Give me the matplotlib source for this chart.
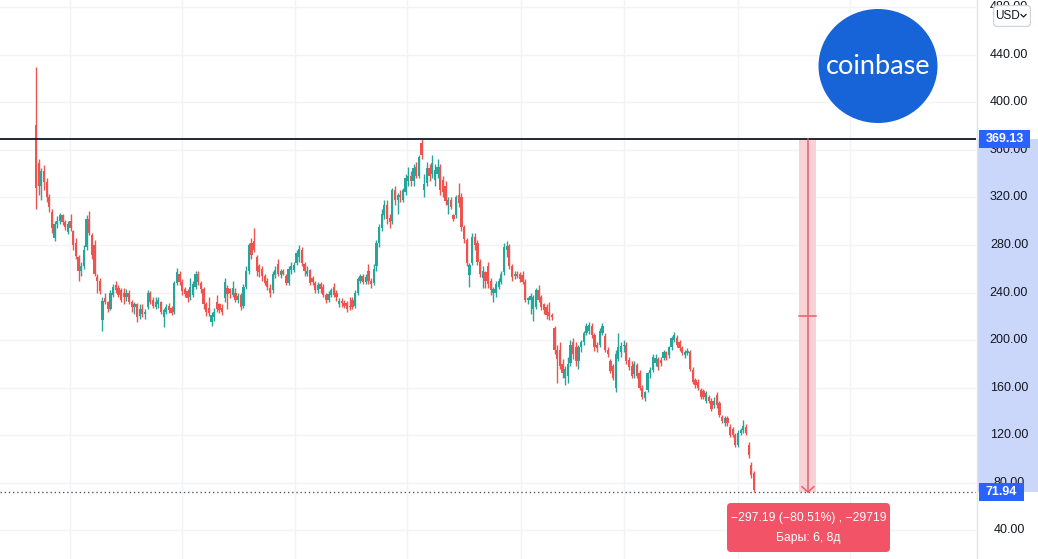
import numpy as np
import matplotlib
matplotlib.use('Agg')
import matplotlib.pyplot as plt
from matplotlib.patches import Rectangle, FancyBboxPatch, Ellipse

# daily candles
opens = [
    381, 349, 330, 342, 333, 320, 308, 286, 298, 300,
    305, 299, 291, 300, 292, 282, 270, 258, 262, 278,
    302, 288, 280, 253, 250, 217, 235, 232, 226, 238,
    246, 244, 242, 240, 236, 240, 232, 228, 230, 220,
    226, 222, 228, 240, 234, 228, 230, 232, 219, 224,
    229, 227, 224, 248, 256, 249, 243, 241, 236, 238,
    245, 256, 248, 243, 230, 227, 215, 219, 232, 230,
    227, 235, 244, 243, 238, 240, 234, 238, 229, 245,
    258, 282, 283, 270, 262, 260, 254, 250, 244, 242,
    255, 264, 255, 258, 254, 248, 259, 259, 265, 270,
    276, 264, 256, 259, 252, 248, 242, 247, 245, 238,
    234, 238, 245, 240, 230, 233, 231, 231, 229, 234,
    229, 240, 250, 254, 249, 258, 250, 248, 262, 282,
    294, 305, 314, 303, 300, 326, 318, 322, 318, 325,
    334, 338, 334, 346, 338, 366, 326, 332, 345, 340,
    335, 340, 346, 335, 330, 314, 318, 305, 305, 322,
    320, 295, 284, 255, 265, 287, 282, 266, 252, 257,
    262, 250, 240, 240, 245, 249, 257, 276, 279, 262,
    254, 256, 256, 255, 249, 234, 234, 226, 228, 242,
    236, 230, 228, 224, 221, 210, 192, 192, 180, 168,
    170, 181, 198, 194, 182, 194, 198, 206, 208, 212,
    204, 196, 196, 206, 203, 192, 182, 178, 160, 184,
    190, 195, 196, 183, 178, 171, 179, 172, 160, 151,
    158, 172, 175, 181, 184, 183, 185, 190, 187, 194,
    200, 202, 198, 193, 187, 189, 190, 175, 166, 165,
    158, 157, 149, 152, 149, 145, 154, 147, 135, 130,
    134, 127, 125, 120, 112, 122, 124, 127, 112, 95,
    88]
highs = [
    430, 352, 345, 347, 336, 323, 310, 300, 304, 307,
    306, 301, 300, 306, 293, 286, 272, 266, 280, 305,
    309, 290, 284, 256, 252, 236, 240, 233, 242, 247,
    250, 246, 244, 244, 243, 242, 234, 232, 231, 230,
    230, 226, 242, 241, 236, 236, 236, 233, 227, 230,
    231, 229, 250, 261, 258, 251, 245, 243, 252, 250,
    258, 258, 250, 245, 232, 236, 224, 227, 238, 231,
    230, 252, 246, 244, 250, 244, 240, 240, 247, 262,
    282, 286, 294, 272, 264, 262, 256, 252, 247, 258,
    262, 268, 260, 260, 256, 262, 266, 266, 276, 280,
    278, 266, 262, 260, 254, 250, 249, 249, 247, 240,
    241, 244, 248, 242, 235, 235, 234, 233, 236, 236,
    242, 253, 256, 256, 256, 264, 252, 264, 284, 298,
    310, 318, 318, 306, 328, 330, 324, 326, 328, 340,
    346, 342, 348, 350, 356, 369.1, 340, 350, 348, 356,
    348, 352, 348, 338, 334, 320, 320, 306, 322, 332,
    324, 297, 286, 265, 290, 290, 284, 268, 262, 258,
    266, 252, 245, 250, 252, 258, 282, 283, 281, 264,
    258, 258, 257, 258, 251, 236, 240, 238, 244, 246,
    238, 231, 230, 232, 223, 212, 196, 198, 184, 178,
    186, 200, 202, 198, 196, 200, 208, 214, 215, 214,
    206, 198, 210, 214, 206, 194, 184, 180, 192, 206,
    198, 200, 198, 186, 182, 182, 181, 175, 162, 157,
    173, 177, 188, 188, 186, 186, 192, 191, 195, 203,
    207, 204, 200, 195, 192, 193, 192, 177, 168, 167,
    160, 159, 157, 154, 151, 152, 156, 149, 137, 136,
    136, 129, 127, 122, 124, 126, 133, 129, 114, 97,
    90]
lows = [
    310, 322, 318, 326, 316, 308, 290, 283, 294, 298,
    297, 293, 289, 292, 276, 268, 250, 254, 260, 276,
    288, 268, 254, 240, 239, 208, 230, 224, 225, 236,
    240, 236, 232, 230, 233, 230, 224, 222, 215, 218,
    219, 218, 226, 230, 227, 226, 227, 222, 211, 222,
    223, 221, 222, 246, 246, 238, 236, 232, 234, 236,
    243, 246, 240, 226, 220, 220, 212, 216, 224, 223,
    221, 232, 226, 235, 236, 232, 231, 225, 227, 243,
    256, 268, 274, 254, 253, 250, 246, 242, 236, 240,
    252, 254, 252, 255, 246, 246, 256, 257, 263, 266,
    262, 254, 254, 246, 246, 240, 240, 240, 236, 231,
    232, 236, 236, 233, 228, 228, 227, 224, 225, 226,
    227, 238, 248, 247, 247, 247, 244, 246, 258, 278,
    292, 302, 298, 294, 298, 314, 306, 316, 316, 322,
    330, 330, 330, 336, 336, 352, 320, 330, 334, 336,
    330, 336, 322, 320, 314, 306, 310, 300, 303, 312,
    292, 282, 262, 245, 263, 276, 263, 253, 244, 244,
    244, 238, 232, 236, 243, 247, 255, 270, 260, 250,
    251, 252, 249, 247, 232, 230, 222, 216, 226, 232,
    225, 222, 218, 217, 217, 188, 164, 176, 168, 162,
    164, 178, 184, 178, 176, 190, 196, 204, 205, 202,
    191, 190, 194, 204, 190, 186, 172, 166, 156, 182,
    186, 190, 180, 175, 168, 168, 168, 158, 150, 149,
    156, 168, 173, 178, 175, 178, 183, 183, 185, 192,
    198, 194, 191, 187, 185, 187, 174, 163, 160, 158,
    150, 150, 147, 147, 140, 143, 143, 135, 130, 128,
    128, 118, 118, 110, 110, 120, 122, 120, 101, 84,
    71.94]
closes = [
    328, 330, 342, 333, 320, 312, 294, 298, 300, 305,
    299, 295, 298, 294, 280, 271, 258, 262, 276, 302,
    290, 272, 256, 250, 241, 233, 232, 226, 240, 245,
    242, 238, 234, 236, 240, 232, 228, 230, 219, 226,
    222, 224, 240, 232, 229, 232, 234, 224, 225, 228,
    225, 223, 248, 257, 249, 241, 239, 235, 245, 247,
    256, 249, 243, 230, 224, 223, 221, 224, 226, 225,
    224, 249, 239, 240, 244, 234, 237, 228, 245, 258,
    280, 272, 276, 258, 257, 254, 248, 245, 240, 256,
    259, 256, 258, 256, 248, 260, 262, 263, 273, 277,
    265, 258, 258, 248, 249, 242, 246, 243, 238, 234,
    239, 242, 238, 236, 233, 231, 229, 226, 228, 228,
    240, 251, 254, 249, 253, 250, 247, 260, 282, 295,
    306, 314, 302, 299, 326, 318, 322, 320, 326, 336,
    338, 334, 345, 338, 354, 356, 331, 345, 338, 349,
    343, 346, 326, 325, 317, 318, 312, 302, 320, 315,
    295, 285, 265, 263, 287, 280, 266, 256, 258, 250,
    247, 242, 243, 247, 250, 256, 278, 279, 262, 253,
    256, 254, 251, 249, 234, 235, 237, 236, 242, 234,
    228, 225, 221, 220, 219, 192, 184, 178, 172, 176,
    180, 196, 188, 182, 194, 198, 206, 212, 213, 204,
    194, 193, 208, 212, 192, 188, 174, 168, 188, 194,
    195, 196, 182, 177, 170, 180, 170, 160, 152, 156,
    172, 175, 186, 185, 177, 181, 190, 185, 194, 202,
    204, 196, 193, 189, 190, 191, 176, 165, 162, 160,
    152, 152, 155, 149, 142, 149, 145, 137, 132, 134,
    130, 120, 120, 112, 122, 124, 128, 122, 103, 86,
    74]

price_ticks = [40, 80, 120, 160, 200, 240, 280, 320, 360, 400, 440, 480]
month_bars = [12.8, 54.9, 97.4, 139.5, 182.4, 221.1, 264.0, 306.1]
high_level = 369.13
last_price = 71.94
measure_bar = 290.3
change_text = '\u2212297.19 (\u221280.51%) , \u221229719'
bars_text = 'Бары: 6, 8д'

UP = '#26a69a'
DOWN = '#ef5350'
W, H = 1038, 559
plt.rcParams['font.family'] = ['Liberation Sans', 'DejaVu Sans']

fig = plt.figure(figsize=(W / 100, H / 100), dpi=100)
fig.patch.set_facecolor('white')

# main chart area
ax = fig.add_axes([0, 0, 976 / W, 1])
ax.set_xlim(-13.54, 353.5)
ax.set_ylim(15.6, 486.3)
ax.axis('off')
for p in price_ticks:
    ax.axhline(p, color='#f2f3f6', lw=1, zorder=0)
for m in month_bars:
    ax.axvline(m, color='#f2f3f6', lw=1, zorder=0)

o = np.array(opens, float)
h = np.array(highs, float)
l = np.array(lows, float)
c = np.array(closes, float)
x = np.arange(len(o))
cols = np.where(c >= o, UP, DOWN)
ax.vlines(x, l, h, colors=cols, lw=1.0, zorder=2)
body = np.maximum(np.abs(c - o), 1.0)
ax.bar(x, body, bottom=np.minimum(o, c), width=0.85, color=cols,
       linewidth=0, zorder=3)

# levels
ax.axhline(high_level, color='#131722', lw=1.3, zorder=4)
ax.axhline(last_price, color='#555b66', lw=1, ls=(0, (1, 2)), zorder=4)

# price range measurement
ax.add_patch(Rectangle((measure_bar - 3.2, last_price), 6.4,
                       high_level - last_price, facecolor='#f9d2d6',
                       edgecolor='none', zorder=1))
mc = '#e3606b'
ax.plot([measure_bar, measure_bar], [high_level, last_price], color=mc,
        lw=1.1, zorder=5)
mid = (high_level + last_price) / 2
ax.plot([measure_bar - 3.2, measure_bar + 3.2], [mid, mid], color=mc,
        lw=1.1, zorder=5)
ax.plot([measure_bar - 2.2, measure_bar, measure_bar + 2.2],
        [last_price + 4.5, last_price, last_price + 4.5], color=mc,
        lw=1.1, zorder=5)

# measurement label
axl = fig.add_axes([727 / W, (H - 552) / H, 163 / W, 49 / H])
axl.set_xlim(0, 163)
axl.set_ylim(0, 49)
axl.axis('off')
axl.add_patch(FancyBboxPatch((0, 0), 163, 49,
                             boxstyle='round,pad=0,rounding_size=4',
                             facecolor='#f25366', edgecolor='none'))
axl.text(81.5, 34, change_text, color='white', fontsize=8.7,
         ha='center', va='center')
axl.text(81.5, 13.5, bars_text, color='white', fontsize=8.7,
         ha='center', va='center')

# price scale
axr = fig.add_axes([976 / W, 0, 62 / W, 1])
axr.set_xlim(0, 62)
axr.set_ylim(15.6, 486.3)
axr.axis('off')
axr.add_patch(Rectangle((1, last_price), 61, high_level - last_price,
                        facecolor='#cad7fb', edgecolor='none', zorder=0))
axr.axvline(0.5, color='#e0e3eb', lw=1, zorder=1)
for p in price_ticks:
    axr.text(33, p, f'{p:.2f}', color='#131722', fontsize=9,
             ha='center', va='center', zorder=2)
axr.add_patch(Rectangle((3, high_level - 7.8), 51, 15.6,
                        facecolor='#2962ff', edgecolor='none', zorder=3))
axr.text(28.5, high_level, f'{high_level:.2f}', color='white',
         fontsize=9, fontweight='bold', ha='center', va='center', zorder=4)
axr.add_patch(Rectangle((3, last_price - 7.5), 45, 15,
                        facecolor='#2962ff', edgecolor='none', zorder=3))
axr.text(25.5, last_price, f'{last_price:.2f}', color='white',
         fontsize=9, fontweight='bold', ha='center', va='center', zorder=4)

# currency selector
axu = fig.add_axes([993 / W, 1 - 27 / H, 38 / W, 22 / H])
axu.set_xlim(0, 38)
axu.set_ylim(0, 22)
axu.axis('off')
axu.add_patch(FancyBboxPatch((0.5, 0.5), 37, 21,
                             boxstyle='round,pad=0,rounding_size=4',
                             facecolor='white', edgecolor='#d1d4dc', lw=1))
axu.text(15, 11, 'USD', color='#131722', fontsize=8.5, ha='center',
         va='center')
axu.plot([28, 30.5, 33], [12.5, 10, 12.5], color='#131722', lw=0.9)

# logo
axg = fig.add_axes([817 / W, 1 - 125 / H, 122 / W, 118 / H])
axg.set_xlim(0, 122)
axg.set_ylim(0, 118)
axg.axis('off')
axg.add_patch(Ellipse((61, 59), 119, 114, facecolor='#1763d8',
                      edgecolor='none'))
axg.text(61, 58, 'coinbase', color='white', fontsize=19.5, family='Lato',
         ha='center', va='center')

fig.savefig('out.png', dpi=100, facecolor='white')
